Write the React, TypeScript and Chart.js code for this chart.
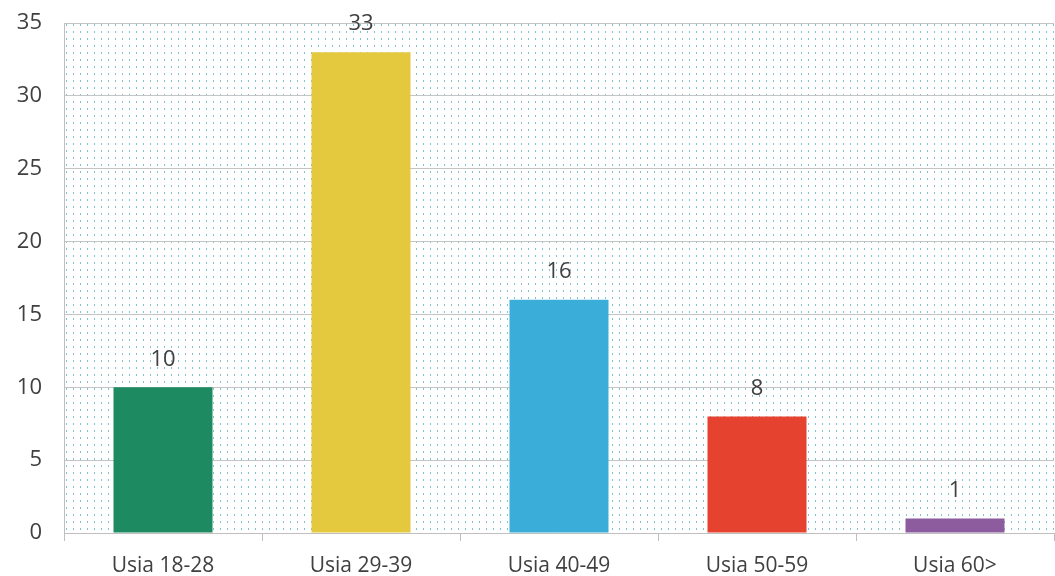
import React, { useEffect, useRef } from "react";
import { Chart, registerables } from "chart.js";

Chart.register(...registerables);

const categories = ["Usia 18-28", "Usia 29-39", "Usia 40-49", "Usia 50-59", "Usia 60>"];
const values = [10, 33, 16, 8, 1];
const barColors = ["#1d8a62", "#e4c93f", "#3badd9", "#e5432f", "#8c5c9e"];
const yTicks = [0, 5, 10, 15, 20, 25, 30, 35];

function makePattern(): CanvasPattern | string {
  const c = document.createElement("canvas");
  c.width = 7;
  c.height = 7;
  const ctx = c.getContext("2d");
  if (!ctx) return "#fff";
  ctx.fillStyle = "#ffffff";
  ctx.fillRect(0, 0, 7, 7);
  ctx.fillStyle = "#7fc3cf";
  ctx.fillRect(3, 3, 1, 2);
  const p = ctx.createPattern(c, "repeat");
  return p || "#fff";
}

export default function App() {
  const ref = useRef<HTMLCanvasElement | null>(null);
  useEffect(() => {
    if (!ref.current) return;
    const pattern = makePattern();
    const bgPlugin = {
      id: "bgPattern",
      beforeDraw(chart: any) {
        const { ctx, chartArea } = chart;
        ctx.save();
        ctx.fillStyle = "#ffffff";
        ctx.fillRect(0, 0, chart.width, chart.height);
        ctx.fillStyle = pattern;
        ctx.fillRect(chartArea.left, chartArea.top, chartArea.right - chartArea.left, chartArea.bottom - chartArea.top);
        ctx.restore();
      },
    };
    const labelPlugin = {
      id: "valueLabels",
      afterDatasetsDraw(chart: any) {
        const { ctx } = chart;
        const meta = chart.getDatasetMeta(0);
        ctx.save();
        ctx.font = '22px "Open Sans", sans-serif';
        ctx.fillStyle = "#404040";
        ctx.textAlign = "center";
        ctx.textBaseline = "middle";
        meta.data.forEach((el: any, i: number) => {
          ctx.fillText(String(values[i]), el.x, el.y - 28);
        });
        ctx.restore();
      },
    };
    const chart = new Chart(ref.current, {
      type: "bar",
      data: {
        labels: categories,
        datasets: [
          {
            data: values,
            backgroundColor: barColors,
            categoryPercentage: 1,
            barPercentage: 0.5,
          },
        ],
      },
      options: {
        animation: false,
        responsive: false,
        maintainAspectRatio: false,
        layout: { padding: { top: 23, right: 1, left: 0, bottom: 0 } },
        plugins: { legend: { display: false }, tooltip: { enabled: false } },
        scales: {
          x: {
            grid: {
              display: true,
              drawOnChartArea: false,
              drawTicks: true,
              tickLength: 8,
              color: "#bfbfbf",
              offset: true,
            },
            border: { display: true, color: "#bfbfbf" },
            ticks: {
              color: "#404040",
              font: { family: "Open Sans", size: 21 },
              padding: 12,
            },
            afterFit: (s: any) => {
              s.height = 43;
              s.paddingLeft = 0;
              s.paddingRight = 0;
            },
          },
          y: {
            min: 0,
            max: 35,
            afterBuildTicks: (s: any) => {
              s.ticks = yTicks.map((v) => ({ value: v }));
            },
            grid: { color: "#c4c4c4", drawTicks: false },
            border: { display: true, color: "#bfbfbf" },
            ticks: {
              color: "#404040",
              font: { family: "Open Sans", size: 22 },
              padding: 22,
            },
            afterFit: (s: any) => {
              s.width = 64;
              s.paddingTop = 0;
              s.paddingBottom = 0;
            },
          },
        },
      },
      plugins: [bgPlugin, labelPlugin],
    });
    return () => chart.destroy();
  }, []);
  return (
    <div style={{ position: "fixed", left: 0, top: 0, width: 1055, height: 576, background: "#fff" }}>
      <canvas ref={ref} width={1055} height={576} style={{ width: 1055, height: 576 }} />
    </div>
  );
}
